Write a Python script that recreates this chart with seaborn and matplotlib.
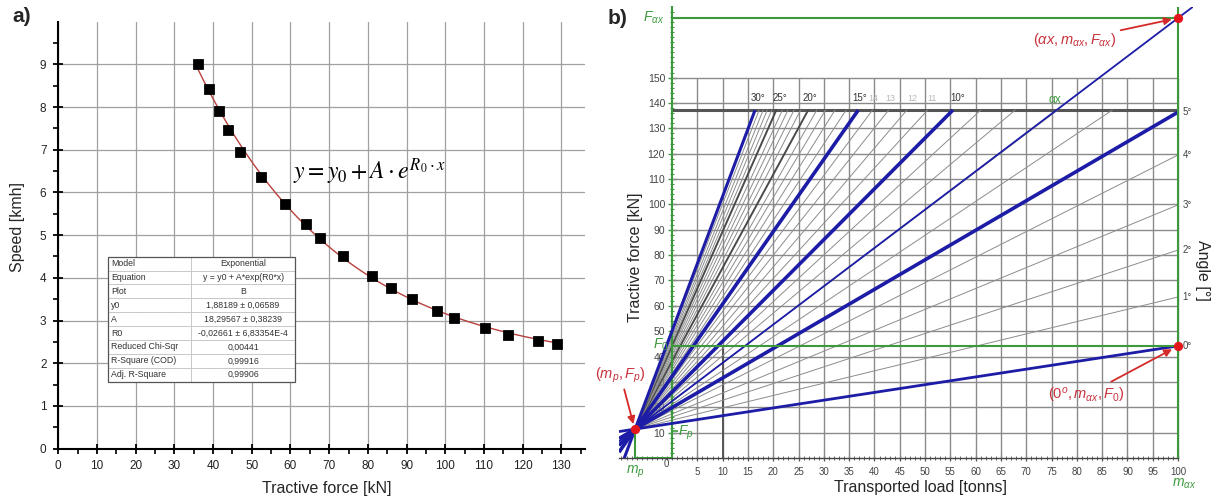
import numpy as np
import matplotlib
matplotlib.use("Agg")
import matplotlib.pyplot as plt
from matplotlib.ticker import MultipleLocator, FixedLocator
from matplotlib.patches import Rectangle
import seaborn as sns

# a) measured speed vs tractive force
force_kn = [36.2, 38.9, 41.5, 43.9, 47.0, 52.4, 58.6, 63.9, 67.6, 73.6,
            81.0, 85.9, 91.3, 97.9, 102.2, 110.2, 116.3, 123.9, 128.8]
speed_kmh = [9.00, 8.42, 7.90, 7.46, 6.95, 6.37, 5.74, 5.25, 4.94, 4.50,
             4.04, 3.77, 3.50, 3.22, 3.07, 2.82, 2.67, 2.51, 2.44]
fit_y0, fit_A, fit_R0 = 1.88189, 18.29567, -0.02661

table_keys = ['Model', 'Equation', 'Plot', 'y0', 'A', 'R0',
              'Reduced Chi-Sqr', 'R-Square (COD)', 'Adj. R-Square']
table_vals = ['Exponential', 'y = y0 + A*exp(R0*x)', 'B', '1,88189 ± 0,06589',
              '18,29567 ± 0,38239', '-0,02661 ± 6,83354E-4', '0,00441',
              '0,99916', '0,99906']

# b) nomogram
m_p, F_p = -7.3, 11.4
m_ax, F_ax, F_0 = 100, 173.5, 44.2
F_top = 137.2
low_angles = [0, 1, 2, 3, 4, 5]
low_end_F = [44.2, 63.5, 82.0, 99.8, 119.5, 136.4]
high_angles = list(range(6, 31))
high_end_m = [87.0, 76.2, 67.8, 61.0, 55.5, 50.5, 46.4, 42.8, 39.6, 36.8,
              34.4, 32.2, 30.3, 28.6, 26.9, 25.4, 24.1, 22.9, 21.8, 20.6,
              19.7, 18.8, 18.0, 17.2, 16.4]
blue_angles = [0, 5, 10, 15, 30]
blue_widths = [2.0, 2.6, 2.6, 2.6, 2.2]
dark_angles = [20, 25]
top_labels = ['30°', '25°', '20°', '15°', '10°']
top_label_m = [17.0, 21.3, 27.2, 37.0, 56.4]
faint_labels = ['14', '13', '12', '11']
faint_label_m = [39.7, 43.1, 47.4, 51.4]
side_labels = ['0°', '1°', '2°', '3°', '4°', '5°']

sns.set_theme(style="white")
plt.rcParams['font.family'] = ['Liberation Sans', 'DejaVu Sans']
plt.rcParams['mathtext.fontset'] = 'custom'
plt.rcParams['mathtext.rm'] = 'Liberation Sans'
plt.rcParams['mathtext.it'] = 'Liberation Sans:italic'

fig = plt.figure(figsize=(12.16, 4.99), dpi=100, facecolor='white')
ax1 = fig.add_axes([58.3 / 1216, (499 - 448.6) / 499, 526.3 / 1216, 427 / 499])
ax2 = fig.add_axes([0.5090, 0.08216, 0.4723, 0.9046])

# ---------------- panel a ----------------
ax1.set_xlim(0, 136)
ax1.set_ylim(0, 10)
ax1.set_xticks(range(0, 131, 10))
ax1.set_yticks(range(0, 10))
ax1.xaxis.set_minor_locator(FixedLocator(np.arange(5, 136, 10)))
ax1.yaxis.set_minor_locator(FixedLocator(np.arange(0.5, 10.1, 1)))
ax1.grid(True, which='major', color='#a0a0a0', lw=0.9)
ax1.set_axisbelow(True)
for s in ['top', 'right']:
    ax1.spines[s].set_visible(False)
for s in ['left', 'bottom']:
    ax1.spines[s].set_color('black')
    ax1.spines[s].set_linewidth(1.5)
ax1.tick_params(which='major', direction='inout', length=7, width=1.3,
                color='black', labelsize=8.5, labelcolor='#222222', pad=5,
                bottom=True, left=True)
ax1.tick_params(which='minor', direction='out', length=3.5, width=1.2,
                color='black', bottom=True, left=True)

# fitted exponential from the table parameters
fit_x = np.linspace(36.2, 130, 200)
fit_y = fit_y0 + fit_A * np.exp(fit_R0 * fit_x)
sns.lineplot(x=fit_x, y=fit_y, color='#b8403c', lw=1.0, ax=ax1, zorder=3)
sns.scatterplot(x=force_kn, y=speed_kmh, marker='s', s=50, color='black',
                edgecolor='black', ax=ax1, zorder=4)

ax1.text(60.6, 6.48, r'$y = y_0 + A \cdot e^{R_0 \cdot x}$', fontsize=17,
         math_fontfamily='stix', ha='left', va='center', color='black')

tab = ax1.table(cellText=[[k, v] for k, v in zip(table_keys, table_vals)],
                colWidths=[0.443 * 0.355, 0.557 * 0.355],
                bbox=[0.095, 0.1567, 0.355, 0.2927], zorder=5)
tab.auto_set_font_size(False)
tab.set_fontsize(6.3)
for (r, c), cell in tab.get_celld().items():
    cell.set_edgecolor('#c4c4c4')
    cell.set_linewidth(0.6)
    cell.set_facecolor('white')
    cell.PAD = 0.03
    cell.get_text().set_color('#333333')
    cell.set_text_props(ha='left' if c == 0 else 'center')
ax1.add_patch(Rectangle((0.095, 0.1567), 0.355, 0.2927, transform=ax1.transAxes,
                        fill=False, ec='#555555', lw=0.9, zorder=6))

fig.text(327 / 1216, 1 - 488 / 499, 'Tractive force [kN]', fontsize=11.5,
         ha='center', va='center')
fig.text(18 / 1216, 1 - 227 / 499, 'Speed [kmh]', fontsize=11.5, rotation=90,
         ha='center', va='center')
fig.text(22 / 1216, 1 - 17 / 499, 'a)', fontsize=15, fontweight='bold',
         ha='center', va='center')

# ---------------- panel b ----------------
green = '#3c9a3c'
blue = '#1c1ca6'
red = '#e3161c'
redtxt = '#c8323c'

ax2.set_xlim(-10.5, 103)
ax2.set_ylim(0, 178)
for s in ['top', 'right']:
    ax2.spines[s].set_visible(False)
ax2.spines['left'].set_position(('data', 0))
ax2.spines['left'].set_color(green)
ax2.spines['left'].set_linewidth(1.5)
ax2.spines['bottom'].set_bounds(-10.5, 100)
ax2.spines['bottom'].set_color('#444444')
ax2.spines['bottom'].set_linewidth(1.0)

ax2.set_xticks(range(5, 101, 5))
ax2.set_yticks(range(10, 151, 10))
ax2.xaxis.set_minor_locator(FixedLocator(np.arange(-10, 101, 1)))
ax2.yaxis.set_minor_locator(FixedLocator(np.arange(0, 178, 2)))
ax2.tick_params(axis='x', which='major', direction='inout', length=5, width=0.9,
                color='#555555', labelsize=7, labelcolor='#444444', pad=4,
                bottom=True)
ax2.tick_params(axis='x', which='minor', direction='inout', length=3, width=0.7,
                color='#666666', bottom=True)
ax2.tick_params(axis='y', which='major', direction='inout', length=6, width=1.0,
                color=green, labelsize=7.5, labelcolor='#444444', pad=2,
                left=True)
ax2.tick_params(axis='y', which='minor', direction='inout', length=3.5, width=0.8,
                color=green, left=True)
ax2.text(-1.2, -2.5, '0', fontsize=7, color='#444444', ha='center', va='center')

# grid
ax2.vlines(range(5, 101, 5), 0, 150, color='#8a8a8a', lw=1.0, zorder=1)
ax2.hlines(range(10, 151, 10), 0, 100, color='#8a8a8a', lw=1.0, zorder=1)
ax2.hlines(F_top, 0, 100, color='#555555', lw=2.2, zorder=2)
ax2.vlines(10, 0, F_0, color='#555555', lw=1.4, zorder=2)

# angle lines
ends = {a: (100.0, f) for a, f in zip(low_angles, low_end_F)}
ends.update({a: (m, F_top) for a, m in zip(high_angles, high_end_m)})
for a, (me, fe) in ends.items():
    if a in blue_angles:
        continue
    if a in dark_angles:
        c, lw = '#4a4a4a', 1.4
    else:
        c, lw = '#8c8c8c', 0.7
    ax2.plot([m_p, me], [F_p, fe], color=c, lw=lw, zorder=2)

m_start = -10.5
for a, lw in zip(blue_angles, blue_widths):
    me, fe = ends[a]
    k = (fe - F_p) / (me - m_p)
    ax2.plot([m_start, me], [F_p + k * (m_start - m_p), fe], color=blue, lw=lw,
             zorder=3, solid_capstyle='butt')
k_ax = (F_ax - F_p) / (m_ax - m_p)
ax2.plot([m_start, 103], [F_p + k_ax * (m_start - m_p), F_p + k_ax * (103 - m_p)],
         color=blue, lw=1.3, zorder=3)

# green construction lines
ax2.hlines(F_ax, 0, 100, color=green, lw=1.5, zorder=4)
ax2.vlines(100, 0, 178, color=green, lw=1.5, zorder=4)
ax2.hlines(F_0, 0, 100, color=green, lw=1.5, zorder=4)
ax2.vlines(m_p, 0, F_p, color=green, lw=1.5, zorder=4)
ax2.hlines(0, m_p, 0, color=green, lw=1.5, zorder=4)
ax2.hlines(F_p - 0.8, 0, 1.2, color=green, lw=1.2, zorder=4)

# labels on the chart
for t, m in zip(top_labels, top_label_m):
    ax2.text(m, 141.8, t, fontsize=7, color='#333333', ha='center', va='center')
for t, m in zip(faint_labels, faint_label_m):
    ax2.text(m, 141.8, t, fontsize=6.5, color='#b8b8b8', ha='center', va='center')
for t, f in zip(side_labels, low_end_F):
    ax2.text(100.9, f, t, fontsize=7, color='#444444', ha='left', va='center')
ax2.text(75.7, 141.2, 'αx', fontsize=8.5, color=green, ha='center', va='center')

ax2.text(-1.6, F_ax, r'$F_{\alpha x}$', fontsize=10, color=green, ha='right', va='center')
ax2.text(-0.8, F_0 + 0.5, r'$F_0$', fontsize=10, color=green, ha='right', va='center')
ax2.text(1.2, F_p - 1.5, r'$F_p$', fontsize=10, color=green, ha='left', va='center')
ax2.text(m_p, -5.5, r'$m_p$', fontsize=10, color=green, ha='center', va='center',
         clip_on=False)
ax2.text(101.2, -10, r'$m_{\alpha x}$', fontsize=10, color=green, ha='center',
         va='center', clip_on=False)

ax2.scatter([m_ax, m_ax, m_p], [F_ax, F_0, F_p], s=32, color=red, zorder=6,
            clip_on=False)

arrow = dict(arrowstyle='-|>', color='#d42a2a', lw=1.3, mutation_scale=11,
             shrinkA=1, shrinkB=2)
ax2.annotate(r'$(\alpha x, m_{\alpha x}, F_{\alpha x})$', xy=(99.3, 173.2),
             xytext=(79.5, 164.8), fontsize=10.5, color=redtxt, ha='center',
             va='center', arrowprops=arrow, zorder=7)
ax2.annotate(r'$(m_p, F_p)$', xy=(-7.5, 12.3), xytext=(-10.2, 32.7),
             fontsize=10.5, color=redtxt, ha='center', va='center',
             arrowprops=arrow, zorder=7, annotation_clip=False)
ax2.annotate(r'$(0^o, m_{\alpha x}, F_0)$', xy=(99.3, 43.4), xytext=(81.8, 24.8),
             fontsize=10.5, color=redtxt, ha='center', va='center',
             arrowprops=arrow, zorder=7)

ax2.text(49, -11.6, 'Transported load [tonns]', fontsize=11.5, ha='center',
         va='center', clip_on=False)
ax2.text(-7.3, 79.3, 'Tractive force [kN]', fontsize=11.5, rotation=90,
         ha='center', va='center', clip_on=False)
ax2.text(104.9, 74.1, 'Angle [°]', fontsize=11.5, rotation=270,
         ha='center', va='center', clip_on=False)
fig.text(618 / 1216, 1 - 18 / 499, 'b)', fontsize=15, fontweight='bold',
         ha='center', va='center')

fig.savefig('out.png', dpi=100, facecolor='white')
